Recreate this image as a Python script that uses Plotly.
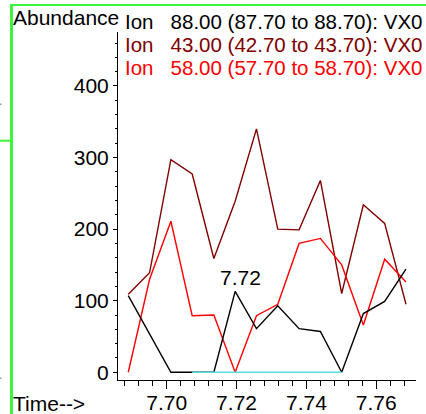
import plotly.graph_objects as go

# ---- data ----
times = [7.6890, 7.6951, 7.7012, 7.7073, 7.7135, 7.7196, 7.7257,
         7.7318, 7.7379, 7.7440, 7.7501, 7.7563, 7.7624, 7.7685]
ion88 = [107, 54, 0, 0, 0, 113, 61, 93, 61, 57, 0, 82, 99, 144]
ion43 = [109, 139, 297, 277, 159, 239, 340, 200, 199, 268, 110, 234, 208, 95]
ion58 = [0, 130, 211, 79, 80, 0, 79, 95, 180, 187, 150, 66, 158, 126]
baseline_times = [7.7073, 7.7501]
baseline_vals = [0, 0]
peak_time = 7.7196
peak_val = 113
peak_label = "7.72"
legend_texts = [
    "Ion\u00a0\u00a0 88.00 (87.70 to 88.70): VX0",
    "Ion\u00a0\u00a0 43.00 (42.70 to 43.70): VX0",
    "Ion\u00a0\u00a0 58.00 (57.70 to 58.70): VX0",
]
legend_colors = ["#000000", "#800000", "#ff0000"]

W, H = 426, 414
L, R, T, B = 118, 10, 32, 34
PW, PH = W - L - R, H - T - B
FONT = "Liberation Sans, Arial, sans-serif"
FS = 21
LEG_FS = 20.5


def px(p):
    return (p - L) / PW


def py(p):
    return (H - B - p) / PH


fig = go.Figure()
fig.add_trace(go.Scatter(x=times, y=ion43, mode="lines",
                         line=dict(color="#800000", width=1.4), showlegend=False))
fig.add_trace(go.Scatter(x=times, y=ion58, mode="lines",
                         line=dict(color="#ff0000", width=1.4), showlegend=False))
fig.add_trace(go.Scatter(x=times, y=ion88, mode="lines",
                         line=dict(color="#000000", width=1.4), showlegend=False))
fig.add_trace(go.Scatter(x=baseline_times, y=baseline_vals, mode="lines",
                         line=dict(color="#55dde2", width=1.6), showlegend=False))

annotations = [
    dict(x=peak_time, y=peak_val, xref="x", yref="y", text=peak_label,
         showarrow=False, xanchor="center", yanchor="bottom", xshift=5, yshift=0,
         font=dict(size=FS, color="#000")),
    dict(x=px(11), y=py(17.5), xref="paper", yref="paper", text="Abundance",
         showarrow=False, xanchor="left", yanchor="middle",
         font=dict(size=FS, color="#000")),
    dict(x=px(11), y=py(403), xref="paper", yref="paper", text="Time-->",
         showarrow=False, xanchor="left", yanchor="middle",
         font=dict(size=FS, color="#000")),
]
for i, (t, c) in enumerate(zip(legend_texts, legend_colors)):
    annotations.append(dict(x=px(123), y=py(21 + 23.4 * i), xref="paper", yref="paper",
                            text=t, showarrow=False, xanchor="left", yanchor="middle",
                            font=dict(size=LEG_FS, color=c)))

green = "#3cf53c"
shapes = [
    dict(type="line", xref="paper", yref="paper", x0=px(11.5), x1=px(11.5),
         y0=py(4), y1=py(414), line=dict(color=green, width=3)),
    dict(type="line", xref="paper", yref="paper", x0=px(10), x1=px(426),
         y0=py(5), y1=py(5), line=dict(color=green, width=2)),
    dict(type="line", xref="paper", yref="paper", x0=px(0), x1=px(10),
         y0=py(140.7), y1=py(140.7), line=dict(color=green, width=2)),
    dict(type="rect", xref="paper", yref="paper", x0=px(0), x1=px(1.5),
         y0=py(103.5), y1=py(105), line=dict(width=0), fillcolor="#999999"),
    dict(type="rect", xref="paper", yref="paper", x0=px(0), x1=px(1.5),
         y0=py(377.5), y1=py(379), line=dict(width=0), fillcolor="#999999"),
]

fig.update_layout(
    width=W, height=H, autosize=False,
    margin=dict(l=L, r=R, t=T, b=B, pad=0, autoexpand=False),
    paper_bgcolor="white", plot_bgcolor="white",
    font=dict(family=FONT, size=FS, color="#000"),
    annotations=annotations, shapes=shapes,
    showlegend=False,
)
fig.update_xaxes(range=[7.68606, 7.77137], tickmode="linear", tick0=7.70, dtick=0.02,
                 tickformat=".2f", ticks="outside", ticklen=8, tickwidth=1, tickcolor="#000",
                 minor=dict(dtick=0.004, tick0=7.70, ticks="outside", ticklen=5,
                            tickwidth=1, tickcolor="#000"),
                 ticklabelstandoff=-4,
                 showline=True, linecolor="#000", linewidth=1, automargin=False,
                 showgrid=False, zeroline=False, tickfont=dict(size=FS))
fig.update_yaxes(range=[-10.8, 475.4], tickmode="linear", tick0=0, dtick=100,
                 ticks="outside", ticklen=4, tickwidth=1, tickcolor="#000",
                 minor=dict(dtick=20, tick0=0, ticks="outside", ticklen=2,
                            tickwidth=1, tickcolor="#000"),
                 showline=True, linecolor="#000", linewidth=1, automargin=False,
                 showgrid=False, zeroline=False, tickfont=dict(size=FS))

fig.write_html("out.html",
               config={"responsive": False, "displayModeBar": False, "staticPlot": True},
               post_script="document.body.style.margin='0';document.body.style.overflow='hidden';")
